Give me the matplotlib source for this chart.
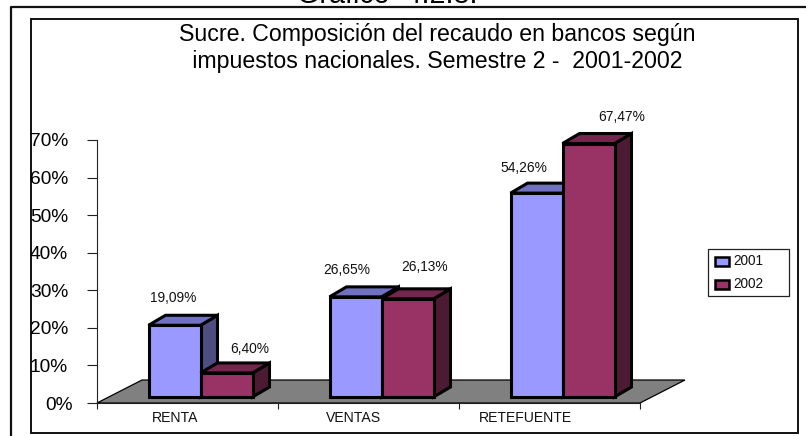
import matplotlib
matplotlib.use("Agg")
import matplotlib.pyplot as plt
from matplotlib.patches import Rectangle, Polygon

plt.rcParams['font.family'] = ['Liberation Sans', 'DejaVu Sans']

categories = ["RENTA", "VENTAS", "RETEFUENTE"]
series_names = ["2001", "2002"]
values_2001 = [19.09, 26.65, 54.26]
values_2002 = [6.40, 26.13, 67.47]
labels_2001 = ["19,09%", "26,65%", "54,26%"]
labels_2002 = ["6,40%", "26,13%", "67,47%"]
yticks = [0, 10, 20, 30, 40, 50, 60, 70]
ytick_labels = ["0%", "10%", "20%", "30%", "40%", "50%", "60%", "70%"]

W, H = 806, 436
fig = plt.figure(figsize=(W / 100, H / 100), dpi=100, facecolor="white")

# frame layer in pixel coordinates
bg = fig.add_axes([0, 0, 1, 1])
bg.set_xlim(0, W); bg.set_ylim(H, 0); bg.axis("off")
bg.plot([10.5, 10.5, W], [H, 7.5, 7.5], color="#111111", lw=1.6, solid_capstyle="butt")
bg.add_patch(Rectangle((30.5, 19), 767.5, 414, fill=False, ec="#111111", lw=1.4))
bg.text(387, 3, "Gráfico  4.2.8.", fontsize=20.6, ha="center", va="baseline", color="black", clip_on=False)
bg.text(437.5, 41, "Sucre. Composición del recaudo en bancos según", fontsize=16.7, ha="center", va="baseline")
bg.text(434.5, 68, " impuestos nacionales. Semestre 2 -  2001-2002", fontsize=16.7, ha="center", va="baseline")

# data axes: x 97..640 px, y 403 (0%)..140 (70%)
x0, x1, y0, y70 = 97, 640, 403, 140
ax = fig.add_axes([x0 / W, 1 - y0 / H, (x1 - x0) / W, (y0 - y70) / H])
ax.set_xlim(0, 3); ax.set_ylim(0, 70)
ax.patch.set_alpha(0)
for s in ("top", "right"):
    ax.spines[s].set_visible(False)
for s in ("left", "bottom"):
    ax.spines[s].set_linewidth(0.8)
    ax.spines[s].set_color("#222222")
ax.set_yticks(yticks)
ax.set_yticklabels(ytick_labels, fontsize=13.8)
ax.set_xticks([0, 1, 2, 3]); ax.set_xticklabels([])
ax.tick_params(axis="y", length=7, width=0.8, pad=13.8, color="#222222")
ax.tick_params(axis="x", length=4, width=0.8, color="#222222")
ax.yaxis.get_major_ticks()[0].set_pad(10.3)

px = 3.0 / (x1 - x0)          # data units per pixel, x
py = 70.0 / (y0 - y70)        # data units per pixel, y
depth_x, depth_y = 45 * px, 23 * py
bx, by = 17 * px, 10 * py     # bar depth
ox, oy = 13 * px, 6 * py      # bar front offset from axis plane
bw = 52 * px

# label placement relative to each bar's front-left / top corner, in pixels
dx_2001, dy_2001 = [25, 17, 13], [27, 27, 25]
dx_2002, dy_2002 = [49, 43, 59], [24, 32, 27]
cat_dx = [-12.5, -14.5, -24.5]

ax.add_patch(Polygon([(0, 0), (3, 0), (3 + depth_x, depth_y), (depth_x, depth_y)],
                     closed=True, fc="#808080", ec="black", lw=0.9, clip_on=False, zorder=1))

def bar3d(left, value, front, top, side, z):
    b, t, r = oy, oy + value, left + bw
    kw = dict(closed=True, ec="black", lw=2.2, joinstyle="miter", clip_on=False, zorder=z)
    ax.add_patch(Polygon([(r, b), (r + bx, b + by), (r + bx, t + by), (r, t)], fc=side, **kw))
    ax.add_patch(Polygon([(left, t), (r, t), (r + bx, t + by), (left + bx, t + by)], fc=top, **kw))
    ax.add_patch(Rectangle((left, b), bw, t - b, fc=front, ec="black", lw=2.2, clip_on=False, zorder=z))

for i, (a, c) in enumerate(zip(values_2001, values_2002)):
    cx = i + 0.5 + ox
    bar3d(cx - bw, a, "#9999FF", "#7171C2", "#4D4D80", 3)
    bar3d(cx, c, "#993366", "#74274D", "#4D1A33", 4)
    ax.text(cx - bw + dx_2001[i] * px, oy + a + dy_2001[i] * py, labels_2001[i], fontsize=9.9,
            ha="center", va="center", clip_on=False, color="#111111", zorder=6)
    ax.text(cx - bw + dx_2002[i] * px + 52 * px, oy + c + dy_2002[i] * py, labels_2002[i], fontsize=9.9,
            ha="center", va="center", clip_on=False, color="#111111", zorder=6)
    ax.text(i + 0.5 + cat_dx[i] * px, -15 * py, categories[i], fontsize=10.1, ha="center", va="center",
            clip_on=False, color="#111111")

# legend
bg.add_patch(Rectangle((707.5, 249), 81, 47, fc="white", ec="#222222", lw=0.9, zorder=5))
for name, col, yy in zip(series_names, ["#9999FF", "#993366"], [261.5, 284.5]):
    bg.add_patch(Rectangle((715, yy - 4.5), 14, 9, fc=col, ec="black", lw=1.8, zorder=6))
    bg.text(733, yy - 1, name, fontsize=9.8, ha="left", va="center", zorder=6, color="#111111")

fig.savefig("out.png", dpi=100)
